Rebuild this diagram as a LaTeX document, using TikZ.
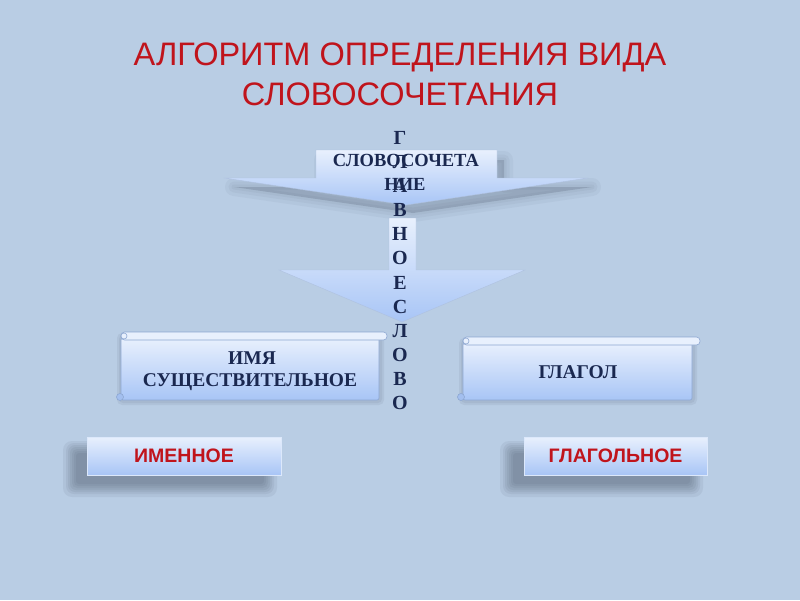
\documentclass[tikz,border=0pt]{standalone}
\usepackage{fontspec}
\setmainfont{Liberation Serif}
\newfontfamily\titlefont{Liberation Sans}
\definecolor{slidebg}{HTML}{B9CDE4}
\definecolor{titlered}{HTML}{C0141C}
\definecolor{inkblue}{HTML}{1A2850}
\definecolor{paleblue}{HTML}{E8F0FD}
\definecolor{midblue}{HTML}{A8C5F6}
\definecolor{edgeblue}{HTML}{8DA7D2}
\definecolor{shadowgray}{HTML}{3E4A5C}
\usetikzlibrary{positioning}

\begin{document}
\begin{tikzpicture}[x=1pt, y=-1pt,
    arrowfill/.style={top color=paleblue, bottom color=midblue, draw=edgeblue!70, line width=0.4pt},
    scrollbody/.style={top color=paleblue, bottom color=midblue, draw=edgeblue, rounded corners=2pt, line width=0.6pt},
    scrollrod/.style={fill=paleblue, draw=edgeblue, rounded corners=3.5pt, line width=0.6pt},
    scrolltext/.style={font=\bfseries\fontsize{19.5}{22}\selectfont, text=inkblue, anchor=base},
    vletter/.style={font=\bfseries\fontsize{20}{22}\selectfont, text=inkblue, anchor=base, inner sep=0pt},
    tagbox/.style={top color=paleblue, bottom color=midblue, draw=white!60!midblue, line width=0.4pt,
                   minimum height=38pt, inner sep=0pt, text=titlered,
                   font=\titlefont\bfseries\fontsize{19.5}{22}\selectfont},
    shadowlayer/.style={fill=shadowgray, opacity=0.08},
    shadowedge/.style={draw=shadowgray, opacity=0.05, line join=round}]
    % slide background and page size
    \fill[slidebg] (0,0) rectangle (800,600);
    \useasboundingbox (0,0) rectangle (800,600);
    % title
    \node[font=\titlefont\fontsize{32.5}{38}\selectfont, text=titlered, anchor=base] (title1) at (400,65)
          {АЛГОРИТМ ОПРЕДЕЛЕНИЯ ВИДА};
    \node[font=\titlefont\fontsize{32.5}{38}\selectfont, text=titlered, anchor=base] (title2) at (400,105)
          {СЛОВОСОЧЕТАНИЯ};
    % blurred shadow of the upper arrow
    \draw[shadowedge, line width=18pt] (323,160) -- (504,160) -- (504,187) -- (592,187) -- (413,213)
          -- (234,187) -- (323,187) -- cycle;
    \draw[shadowedge, line width=11pt] (323,160) -- (504,160) -- (504,187) -- (592,187) -- (413,213)
          -- (234,187) -- (323,187) -- cycle;
    \draw[shadowedge, line width=5pt] (323,160) -- (504,160) -- (504,187) -- (592,187) -- (413,213)
          -- (234,187) -- (323,187) -- cycle;
    \fill[shadowlayer, opacity=0.2] (323,160) -- (504,160) -- (504,187) -- (592,187) -- (413,213)
          -- (234,187) -- (323,187) -- cycle;
    % upper arrow
    \draw[arrowfill] (316,150) -- (497,150) -- (497,178) -- (588,178) -- (406,205)
          -- (224,178) -- (316,178) -- cycle;
    % lower arrow
    \draw[arrowfill] (389,218) -- (416,218) -- (416,270) -- (525,270) -- (402,322)
          -- (279,270) -- (389,270) -- cycle;
    % text in the upper arrow
    \node[scrolltext, font=\bfseries\fontsize{18.5}{22}\selectfont] (phrase1) at (406,166) {СЛОВОСОЧЕТА};
    \node[scrolltext, font=\bfseries\fontsize{18.5}{22}\selectfont] (phrase2) at (405,190) {НИЕ};
    % vertical word running down the arrows
    \node[vletter] (ltr1)  at (400,144) {Г};
    \node[vletter] (ltr2)  at (400,168) {Л};
    \node[vletter] (ltr3)  at (400,192) {А};
    \node[vletter] (ltr4)  at (400,216) {В};
    \node[vletter] (ltr5)  at (400,240) {Н};
    \node[vletter] (ltr6)  at (400,264) {О};
    \node[vletter] (ltr7)  at (400,289) {Е};
    \node[vletter] (ltr8)  at (400,313) {С};
    \node[vletter] (ltr9)  at (400,337) {Л};
    \node[vletter] (ltr10) at (400,361) {О};
    \node[vletter] (ltr11) at (400,385) {В};
    \node[vletter] (ltr12) at (400,409) {О};
    % left scroll
    \fill[shadowlayer, rounded corners=5pt] (117,333) rectangle (384,405);
    \fill[shadowlayer, rounded corners=4pt] (119,335) rectangle (382,403);
    \draw[scrollbody] (121,338) rectangle (379,400);
    \draw[scrollrod] (121,332) rectangle (387,340);
    \draw[edgeblue, fill=paleblue, line width=0.6pt] (124,336) circle (3);
    \draw[edgeblue, fill=midblue!80!edgeblue, line width=0.6pt] (120,397) circle (3.5);
    \node[scrolltext] (noun1) at (252,364) {ИМЯ};
    \node[scrolltext] (noun2) at (250,386) {СУЩЕСТВИТЕЛЬНОЕ};
    % right scroll
    \fill[shadowlayer, rounded corners=5pt] (459,338) rectangle (697,405);
    \fill[shadowlayer, rounded corners=4pt] (461,340) rectangle (695,403);
    \draw[scrollbody] (463,343) rectangle (692,400);
    \draw[scrollrod] (463,337) rectangle (700,345);
    \draw[edgeblue, fill=paleblue, line width=0.6pt] (466,341) circle (3);
    \draw[edgeblue, fill=midblue!80!edgeblue, line width=0.6pt] (461,397) circle (3.5);
    \node[scrolltext] (verb) at (578,378) {ГЛАГОЛ};
    % shadows of the answer boxes
    \fill[shadowlayer, rounded corners=9pt] (63,441) rectangle (277,497);
    \fill[shadowlayer, rounded corners=8pt] (66,443) rectangle (274,494);
    \fill[shadowlayer, rounded corners=7pt] (68,445) rectangle (272,492);
    \fill[shadowlayer, rounded corners=6pt] (70,447) rectangle (270,490);
    \fill[shadowlayer, rounded corners=5pt] (72,449) rectangle (268,488);
    \fill[shadowlayer, rounded corners=4pt] (74,451) rectangle (266,486);
    \fill[shadowlayer, rounded corners=3pt] (76,453) rectangle (264,484);
    \fill[shadowlayer, rounded corners=9pt] (500,441) rectangle (703,497);
    \fill[shadowlayer, rounded corners=8pt] (503,443) rectangle (700,494);
    \fill[shadowlayer, rounded corners=7pt] (505,445) rectangle (698,492);
    \fill[shadowlayer, rounded corners=6pt] (507,447) rectangle (696,490);
    \fill[shadowlayer, rounded corners=5pt] (509,449) rectangle (694,488);
    \fill[shadowlayer, rounded corners=4pt] (511,451) rectangle (692,486);
    \fill[shadowlayer, rounded corners=3pt] (513,453) rectangle (690,484);
    % answer boxes
    \node[tagbox, minimum width=194pt] (nominal) at (184,456) {ИМЕННОЕ};
    \node[tagbox, minimum width=183pt] (verbal) at (615.5,456) {ГЛАГОЛЬНОЕ};
\end{tikzpicture}
\end{document}
